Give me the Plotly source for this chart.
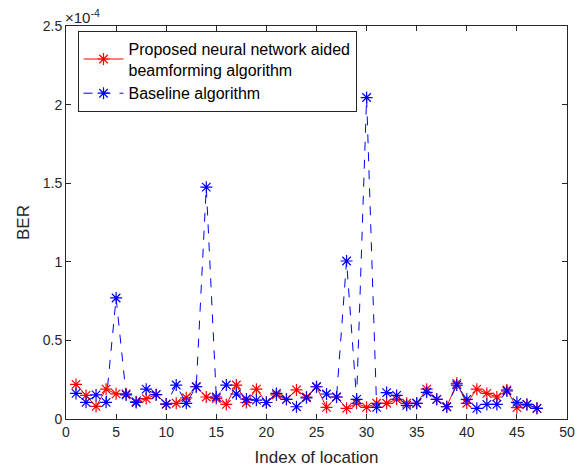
import plotly.graph_objects as go

idx = list(range(1, 48))
# BER values in units of 1e-4
proposed = [0.22, 0.15, 0.08, 0.19, 0.16, 0.16, 0.11, 0.13, 0.155, 0.095,
            0.10, 0.135, 0.205, 0.14, 0.13, 0.093, 0.216, 0.105, 0.19, 0.105,
            0.153, 0.125, 0.185, 0.14, 0.205, 0.074, 0.14, 0.068, 0.10, 0.074,
            0.10, 0.10, 0.125, 0.10, 0.10, 0.19, 0.125, 0.078, 0.227, 0.10,
            0.19, 0.163, 0.14, 0.185, 0.072, 0.093, 0.068]
baseline = [0.163, 0.106, 0.153, 0.106, 0.77, 0.153, 0.105, 0.19, 0.155, 0.095,
            0.216, 0.10, 0.205, 1.475, 0.14, 0.216, 0.159, 0.127, 0.12, 0.105,
            0.163, 0.125, 0.078, 0.135, 0.205, 0.159, 0.14, 1.005, 0.125, 2.045,
            0.074, 0.168, 0.15, 0.087, 0.10, 0.17, 0.125, 0.078, 0.216, 0.125,
            0.068, 0.093, 0.093, 0.178, 0.106, 0.093, 0.068]
xticks = [0, 5, 10, 15, 20, 25, 30, 35, 40, 45, 50]
yticks = [0, 0.5, 1, 1.5, 2, 2.5]
ytick_text = ["0", "0.5", "1", "1.5", "2", "2.5"]

FONT = "Liberation Sans, Arial, Helvetica, sans-serif"
AX = "#262626"

fig = go.Figure()
fig.add_trace(go.Scatter(
    x=idx, y=proposed, mode="lines+markers",
    name="Proposed neural network aided<br>beamforming algorithm",
    line=dict(color="#ff0000", width=1),
    marker=dict(symbol="asterisk-open", size=10, color="#ff0000",
                line=dict(color="#ff0000", width=1.2)),
))
fig.add_trace(go.Scatter(
    x=idx, y=baseline, mode="lines+markers",
    name="Baseline algorithm",
    line=dict(color="#0000ff", width=1, dash="dash"),
    marker=dict(symbol="asterisk-open", size=10, color="#0000ff",
                line=dict(color="#0000ff", width=1.2)),
))

axis_common = dict(
    showline=True, linecolor=AX, linewidth=1, mirror="allticks",
    ticks="inside", ticklen=5, tickcolor=AX, tickwidth=1,
    showgrid=False, zeroline=False, automargin=False,
    tickfont=dict(family=FONT, size=14, color=AX),
)

fig.update_layout(
    width=587, height=469,
    margin=dict(l=66, r=20, t=26, b=50),
    paper_bgcolor="white", plot_bgcolor="white",
    font=dict(family=FONT, size=14, color=AX),
    xaxis=dict(range=[0, 50], tickvals=xticks,
               title=dict(text="Index of location", font=dict(family=FONT, size=17, color=AX), standoff=12),
               **axis_common),
    yaxis=dict(range=[0, 2.5], tickvals=yticks, ticktext=ytick_text,
               title=dict(text="BER", font=dict(family=FONT, size=17, color=AX), standoff=8),
               **axis_common),
    legend=dict(x=0.023, y=0.988, xanchor="left", yanchor="top",
                bgcolor="white", bordercolor=AX, borderwidth=1,
                font=dict(family=FONT, size=16, color="black"),
                tracegroupgap=0, itemwidth=40),
    showlegend=True,
)

fig.add_annotation(
    x=0, y=1, xref="paper", yref="paper", xanchor="left", yanchor="bottom",
    text="×10<sup>-4</sup>", showarrow=False, xshift=-3, yshift=-2,
    font=dict(family=FONT, size=15, color=AX),
)

fig.write_html("out.html")
